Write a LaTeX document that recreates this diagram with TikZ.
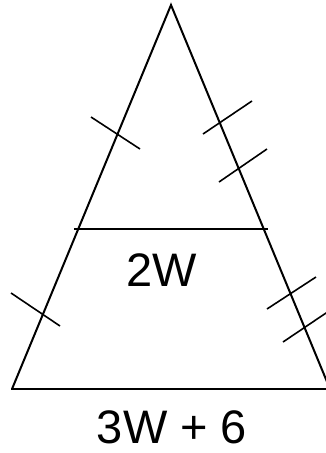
\documentclass[tikz,border=0pt]{standalone}
\usepackage{fontspec}
\setmainfont{Liberation Sans}
\begin{document}
\begin{tikzpicture}[x=1pt,y=-1pt,
  side/.style={line width=2pt,line cap=butt},
  seg/.style={line width=1.6pt},
  tick/.style={line width=1.6pt},
  lbl/.style={font=\fontsize{47}{56}\selectfont,inner sep=0pt,anchor=base,text depth=0pt}]
\useasboundingbox (0,0) rectangle (326,453);
\clip (0,0) rectangle (326,453);
\coordinate (A) at (171,5);
\coordinate (B) at (12,389);
\coordinate (C) at (330,389);
\coordinate (M1) at (74,229);
\coordinate (M2) at (268,229);
\draw[side] (B) -- (A) -- (C);
\draw[seg] (11,389) coordinate (B0) -- (330,389) coordinate (C0);
\draw[seg] (M1) -- (M2);
% ticks
\draw[tick] (91,117) coordinate (t1a) -- (140,149) coordinate (t1b);
\draw[tick] (11,293) coordinate (t2a) -- (60,326) coordinate (t2b);
\draw[tick] (203,134) coordinate (t3a) -- (252,101) coordinate (t3b);
\draw[tick] (219,182) coordinate (t4a) -- (267,149) coordinate (t4b);
\draw[tick] (267,309) coordinate (t5a) -- (316,277) coordinate (t5b);
\draw[tick] (283,342) coordinate (t6a) -- (332,309) coordinate (t6b);
\node[lbl] (top) at (162,286) {2W};
\node[lbl] (bot) at (172,443) {3W + 6};
\end{tikzpicture}
\end{document}
